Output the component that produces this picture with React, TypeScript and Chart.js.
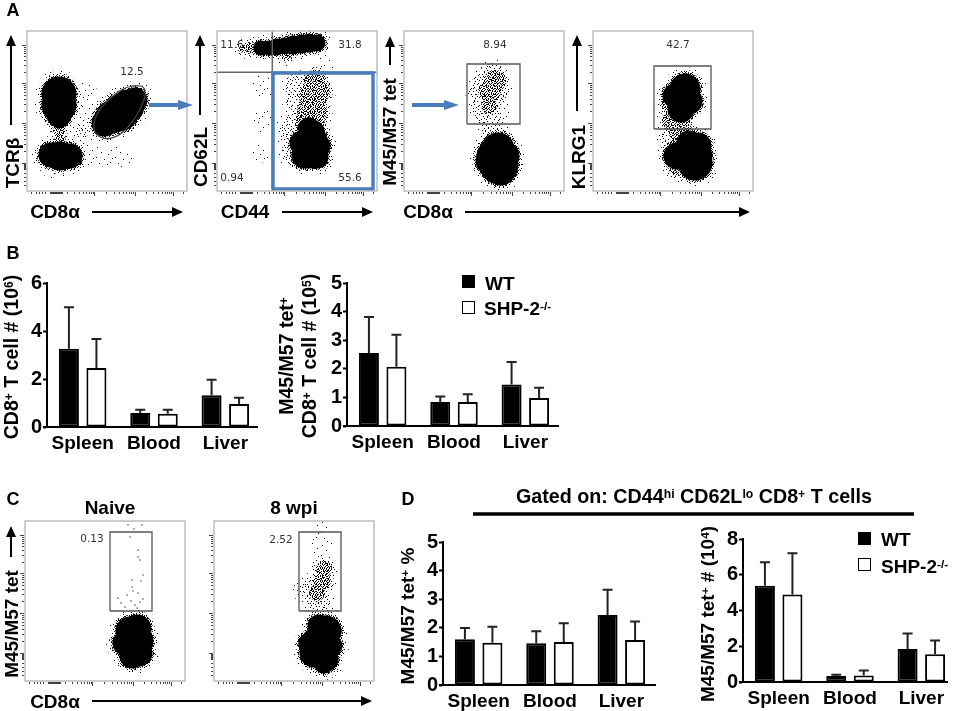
import React, { useEffect, useRef } from "react";
import { Chart, registerables } from "chart.js";

Chart.register(...registerables);

// ---------- Bar panel data ----------
const categories = ["Spleen", "Blood", "Liver"];
const b1Wt = [3.26, 0.58, 1.32];
const b1WtErr = [4.99, 0.72, 1.97];
const b1Ko = [2.46, 0.55, 0.96];
const b1KoErr = [3.67, 0.72, 1.22];
const b2Wt = [2.55, 0.84, 1.45];
const b2WtErr = [3.81, 1.03, 2.24];
const b2Ko = [2.07, 0.84, 0.98];
const b2KoErr = [3.19, 1.11, 1.34];
const d1Wt = [1.6, 1.46, 2.45];
const d1WtErr = [1.99, 1.88, 3.33];
const d1Ko = [1.48, 1.5, 1.57];
const d1KoErr = [2.04, 2.16, 2.22];
const d2Wt = [5.39, 0.34, 1.85];
const d2WtErr = [6.7, 0.41, 2.72];
const d2Ko = [4.9, 0.37, 1.55];
const d2KoErr = [7.2, 0.64, 2.32];

// ---------- Flow panel data: channel units, [x, y, spread] ----------
type Zone = [number, number, number];
type Pt = [number, number];
const a1Solid: Zone[] = [[32, 97, 14], [32, 86, 14], [32, 76, 9], [32, 70, 4], [24, 36, 9], [33, 35, 11], [43, 35, 9], [78, 68, 10], [85, 74, 13], [93, 78, 15], [101, 85, 13], [108, 91, 9]];
const a1Mid: Zone[] = [[32, 60, 6], [33, 50, 6]];
const a1Thin: Zone[] = [[50, 85, 6], [55, 60, 7]];
const a1Haze: Zone[] = [[60, 72, 22], [68, 34, 12], [88, 34, 12], [50, 45, 12], [60, 100, 10], [100, 34, 7], [25, 18, 8]];
const a2Solid: Zone[] = [[100, 148, 5], [92, 148, 6], [84, 147, 6], [76, 146, 6], [68, 145, 5], [60, 144, 5], [52, 143, 4], [44, 143, 4], [92, 62, 8], [94, 50, 13], [92, 38, 12], [97, 60, 7], [85, 48, 9], [101, 45, 9], [87, 35, 9], [100, 34, 8]];
const a2Mid: Zone[] = [[34, 143, 6], [26, 142, 4], [98, 110, 11], [96, 95, 14], [95, 80, 15], [93, 68, 15], [70, 137, 6], [100, 100, 13]];
const a2Thin: Zone[] = [[85, 90, 16], [80, 60, 18], [85, 40, 20], [80, 105, 12]];
const a2Haze: Zone[] = [[45, 105, 13], [43, 38, 10], [48, 70, 12], [110, 130, 9]];
const a3Solid: Zone[] = [[92, 34, 16], [95, 26, 16], [97, 20, 11], [94, 42, 13], [85, 30, 10], [102, 35, 10]];
const a3Mid: Zone[] = [[91, 110, 11], [88, 98, 9], [84, 100, 10], [85, 85, 8]];
const a3Thin: Zone[] = [[85, 100, 20], [88, 115, 13], [82, 85, 15], [85, 75, 12], [88, 62, 11]];
const a3Haze: Zone[] = [[90, 70, 18]];
const a4Solid: Zone[] = [[92, 102, 12], [90, 92, 13], [88, 82, 10], [82, 95, 9], [96, 90, 10], [100, 38, 14], [102, 28, 14], [96, 48, 9], [84, 35, 10], [105, 45, 10], [108, 35, 8]];
const a4Mid: Zone[] = [[78, 88, 10], [85, 72, 13], [97, 100, 11], [82, 40, 11], [85, 25, 10], [88, 58, 12], [80, 70, 11]];
const a4Thin: Zone[] = [[80, 50, 13], [78, 90, 11]];
const a4Haze: Zone[] = [[86, 20, 14]];
const c1Solid: Zone[] = [[112, 52, 11], [112, 40, 13], [114, 28, 10], [107, 45, 9], [105, 50, 11], [100, 38, 9], [107, 25, 9]];
const c1Mid: Zone[] = [[96, 40, 8], [100, 30, 8], [100, 52, 7]];
const c2Solid: Zone[] = [[112, 50, 12], [107, 35, 15], [100, 28, 11], [112, 22, 9], [100, 40, 9], [115, 50, 9], [105, 55, 8], [95, 38, 7], [110, 18, 7], [118, 35, 7]];
const c2Mid: Zone[] = [[92, 35, 5], [110, 112, 8], [108, 100, 9], [103, 88, 8]];
const c2Thin: Zone[] = [[100, 92, 13], [105, 80, 12], [97, 85, 9], [92, 90, 9]];
const c2Haze: Zone[] = [[108, 135, 11], [108, 152, 7]];
const c1Strays: Pt[] = [[105, 144], [113, 131], [115, 121], [118, 106], [107, 101], [107, 94], [113, 88], [93, 83], [102, 86], [115, 79], [110, 76], [112, 73], [100, 74], [117, 156], [103, 156], [109, 152], [113, 124], [116, 100], [108, 90], [96, 78], [118, 82], [106, 80]];
const noStrays: Pt[] = [];
const noZones: Zone[] = [];

// Gates in channel units
const a1Gate: Pt[] = [[114.7, 105], [104.7, 105], [93, 100.3], [79.7, 89.3], [69.7, 76], [67, 62.7], [73, 54.3], [83, 52.7], [96.3, 59.3], [109.7, 76], [117, 91], [118, 101], [114.7, 105]];
const a2VLine: Pt[] = [[55.3, 0], [55.3, 160]];
const a2HLine: Pt[] = [[0, 118.7], [160, 118.7]];
const a2Box: Pt[] = [[56, 2], [156, 2], [156, 118], [56, 118], [56, 2]];
const a3Box: Pt[] = [[63, 67], [116, 67], [116, 127], [63, 127], [63, 67]];
const a4Box: Pt[] = [[61, 62], [118, 62], [118, 125], [61, 125], [61, 62]];
const cBox: Pt[] = [[85, 70], [127, 70], [127, 149], [85, 149], [85, 70]];

// Log-style ticks shared by flow panels
const yMajorTicks = [146, 108, 68, 28];
const yMinorTicks = [144.3, 142.3, 140.1, 137.6, 134.6, 130.9, 126.1, 119.4, 106.2, 104.1, 101.8, 99.1, 95.9, 91.9, 86.9, 80, 66.2, 64.1, 61.8, 59.1, 55.9, 51.9, 46.9, 40, 27, 26, 25, 24, 23, 22, 18, 14, 10, 6];
const xMajorTicks = [67, 108, 146];
const xMinorTicks = [4, 9, 12, 15, 18, 23, 24, 25, 26, 27, 28, 29, 30, 31, 32, 33, 34, 35, 40, 47, 52, 56, 59, 62, 64, 66, 79, 87, 92, 96, 99, 102, 104, 106, 119, 126, 131, 135, 138, 140, 142, 144, 156];

// Stipple textures
const sparseTile: Pt[] = [[2, 3], [11, 1], [16, 6], [6, 8], [13, 10], [1, 13], [9, 15], [17, 14], [4, 19], [12, 20], [7, 22], [15, 18]];
const thinTile: Pt[] = [[1, 1], [5, 0], [9, 2], [12, 5], [3, 4], [7, 5], [0, 7], [10, 8], [5, 8], [2, 10], [8, 11], [12, 11], [4, 12], [6, 14], [1, 14], [10, 14], [11, 16], [3, 16], [8, 16], [0, 3]];
const midTile = ["#.#..#.#..#", ".#..#...#..", "#..#.#.#..#", "..#...#..#.", ".#..#..#.#.", "#.#.#.#...#", "..#...#.#..", "#...#..#..#", ".#.#.#...#.", "#...#.#.#..", "..#.#...#.#", ".#...#.#...", "#..#...#.#."];

const FONT = '"Liberation Sans", Arial, sans-serif';

function makePattern(w: number, h: number, pts: Pt[]) {
  const c = document.createElement("canvas");
  c.width = w;
  c.height = h;
  const g = c.getContext("2d")!;
  g.fillStyle = "#000";
  pts.forEach(([x, y]) => g.fillRect(x, y, 1, 1));
  return g.createPattern(c, "repeat")!;
}
function bitmapPts(rows: string[], mark: string): Pt[] {
  const out: Pt[] = [];
  rows.forEach((r, y) => r.split("").forEach((ch, x) => { if (ch === mark) out.push([x, y]); }));
  return out;
}
const bub = (zones: Zone[], extra: number) => zones.map(([x, y, r]) => ({ x, y, r: r + extra }));
const pts = (p: Pt[]) => p.map(([x, y]) => ({ x, y }));

const flowFrame = {
  id: "flowFrame",
  afterDatasetsDraw(chart: any) {
    const { ctx, chartArea: a, scales } = chart;
    ctx.save();
    ctx.strokeStyle = "#bdbdbd";
    ctx.lineWidth = 1.5;
    ctx.strokeRect(a.left, a.top, a.width, a.height);
    ctx.strokeStyle = "#444";
    ctx.lineWidth = 1;
    const tick = (vals: number[], len: number, axis: string) => vals.forEach((v) => {
      ctx.beginPath();
      if (axis === "y") {
        const p = Math.round(scales.y.getPixelForValue(v)) + 0.5;
        ctx.moveTo(a.left - 1, p); ctx.lineTo(a.left - 1 - len, p);
      } else {
        const p = Math.round(scales.x.getPixelForValue(v)) + 0.5;
        ctx.moveTo(p, a.bottom + 1); ctx.lineTo(p, a.bottom + 1 + len);
      }
      ctx.stroke();
    });
    tick(yMajorTicks, 4, "y"); tick(yMinorTicks, 2, "y");
    tick(xMajorTicks, 4, "x"); tick(xMinorTicks, 2, "x");
    ctx.restore();
  },
};

type Gate = { p: Pt[]; color: string; width: number; smooth?: boolean };

function FlowPlot(props: { left: number; top: number; solid: Zone[]; mid: Zone[]; thin: Zone[]; haze: Zone[]; strays: Pt[]; gates: Gate[] }) {
  const ref = useRef<HTMLCanvasElement>(null);
  useEffect(() => {
    const { solid, mid, thin, haze, strays, gates } = props;
    const sparseP = makePattern(19, 23, sparseTile);
    const thinP = makePattern(13, 17, thinTile);
    const midP = makePattern(11, 13, bitmapPts(midTile, "#"));
    const denseP = makePattern(11, 13, bitmapPts(midTile, "."));
    const datasets: any[] = [
      { type: "bubble", order: 15, backgroundColor: sparseP, borderWidth: 0, data: [...bub(haze, 0), ...bub(thin, 4), ...bub(mid, 6), ...bub(solid, 10)] },
      { type: "bubble", order: 14, backgroundColor: thinP, borderWidth: 0, data: [...bub(thin, 0), ...bub(mid, 3), ...bub(solid, 7)] },
      { type: "bubble", order: 13, backgroundColor: midP, borderWidth: 0, data: [...bub(mid, 0), ...bub(solid, 5)] },
      { type: "bubble", order: 12, backgroundColor: denseP, borderWidth: 0, data: bub(solid, 3.5) },
      { type: "bubble", order: 11, backgroundColor: "#000", borderWidth: 0, data: bub(solid, 1.5) },
      { type: "scatter", order: 10, backgroundColor: "#222", pointRadius: 0.7, borderWidth: 0, data: pts(strays) },
      ...gates.map((g, i) => ({ type: "line", order: i, data: pts(g.p), borderColor: g.color, borderWidth: g.width, pointRadius: 0, tension: g.smooth ? 0.4 : 0, fill: false })),
    ];
    const chart = new Chart(ref.current!, {
      type: "bubble",
      data: { datasets },
      options: {
        animation: false,
        responsive: false,
        events: [],
        layout: { autoPadding: false, padding: { left: 8, right: 2, top: 2, bottom: 8 } },
        plugins: { legend: { display: false }, tooltip: { enabled: false } },
        scales: {
          x: { type: "linear", min: 0, max: 160, display: false },
          y: { type: "linear", min: 0, max: 160, display: false },
        },
      },
      plugins: [flowFrame],
    } as any);
    return () => chart.destroy();
  }, []);
  return <canvas ref={ref} width={170} height={170} style={{ position: "absolute", left: props.left - 8, top: props.top - 2, width: 170, height: 170, filter: "blur(0.4px)" }} />;
}

const barExtras = {
  id: "barExtras",
  afterDatasetsDraw(chart: any) {
    const { ctx, scales } = chart;
    const o = chart.options.plugins.barExtras;
    ctx.save();
    ctx.strokeStyle = "#222";
    ctx.lineWidth = 2;
    chart.data.datasets.forEach((ds: any, di: number) => {
      const meta = chart.getDatasetMeta(di);
      meta.data.forEach((bar: any, i: number) => {
        const t = scales.y.getPixelForValue(ds.errTop[i]);
        ctx.beginPath();
        ctx.moveTo(bar.x, bar.y);
        ctx.lineTo(bar.x, t);
        ctx.moveTo(bar.x - 5, t);
        ctx.lineTo(bar.x + 5, t);
        ctx.stroke();
      });
    });
    ctx.strokeStyle = "#000";
    const b = scales.y.getPixelForValue(0);
    ctx.beginPath();
    ctx.moveTo(chart.chartArea.left - 4, b);
    ctx.lineTo(chart.chartArea.left + o.axisLen, b);
    ctx.stroke();
    ctx.restore();
  },
};

function BarPlot(props: { left: number; top: number; base: number; axisLen: number; max: number; wt: number[]; wtErr: number[]; ko: number[]; koErr: number[] }) {
  const ref = useRef<HTMLCanvasElement>(null);
  const YW = 30, PT = 14, XH = 30, PW = 214;
  useEffect(() => {
    const chart = new Chart(ref.current!, {
      type: "bar",
      data: {
        labels: categories,
        datasets: [
          { label: "WT", data: props.wt, errTop: props.wtErr, backgroundColor: "#000", borderColor: "#000", borderWidth: 2, borderSkipped: false },
          { label: "SHP-2-/-", data: props.ko, errTop: props.koErr, backgroundColor: "#fff", borderColor: "#000", borderWidth: 2, borderSkipped: false },
        ],
      },
      options: {
        animation: false,
        responsive: false,
        events: [],
        categoryPercentage: 0.771,
        barPercentage: 0.727,
        layout: { autoPadding: false, padding: { top: PT, left: 0, right: 0, bottom: 0 } },
        plugins: { legend: { display: false }, tooltip: { enabled: false }, barExtras: { axisLen: props.axisLen } },
        scales: {
          x: {
            type: "category",
            afterFit: (s: any) => { s.height = XH; },
            grid: { display: false, drawTicks: false },
            border: { display: false },
            ticks: { color: "#000", font: { family: FONT, size: 19, weight: "bold" }, padding: 5, maxRotation: 0, autoSkip: false },
          },
          y: {
            type: "linear",
            min: 0,
            max: props.max,
            afterFit: (s: any) => { s.width = YW; },
            afterBuildTicks: (s: any) => {
              const step = props.max === 8 ? 2 : props.max === 6 ? 2 : 1;
              const t = [];
              for (let v = 0; v <= props.max; v += step) t.push({ value: v });
              s.ticks = t;
            },
            grid: { display: true, drawOnChartArea: false, drawTicks: true, tickLength: 4, tickWidth: 2, tickColor: "#000" },
            border: { display: true, width: 2, color: "#000" },
            ticks: { color: "#000", font: { family: FONT, size: 20, weight: "bold" }, padding: 1 },
          },
        },
      },
      plugins: [barExtras],
    } as any);
    return () => chart.destroy();
  }, []);
  const H = props.base - props.top + PT + XH;
  return <canvas ref={ref} width={PW + YW} height={H} style={{ position: "absolute", left: props.left - YW, top: props.top - PT, width: PW + YW, height: H }} />;
}

function T(p: { x: number; y: number; size?: number; rot?: boolean; bold?: boolean; font?: string; color?: string; children: React.ReactNode }) {
  return (
    <div style={{
      position: "absolute", left: p.x, top: p.y, whiteSpace: "nowrap", lineHeight: 1,
      transform: `translate(-50%,-50%)${p.rot ? " rotate(-90deg)" : ""}`,
      fontFamily: p.font || FONT, fontWeight: p.bold === false ? 400 : 700, fontSize: p.size || 19, color: p.color || "#000",
    }}>{p.children}</div>
  );
}
function L(p: { x: number; y: number; size?: number; children: React.ReactNode }) {
  return (
    <div style={{ position: "absolute", left: p.x, top: p.y, whiteSpace: "nowrap", lineHeight: 1, transform: "translateY(-50%)", fontFamily: FONT, fontWeight: 700, fontSize: p.size || 19, color: "#000" }}>{p.children}</div>
  );
}
const Sup = (p: { children: React.ReactNode }) => <sup style={{ fontSize: "62%", lineHeight: 0, verticalAlign: "baseline", position: "relative", top: "-0.45em" }}>{p.children}</sup>;
const Num = (p: { x: number; y: number; children: React.ReactNode }) => <T x={p.x} y={p.y} size={10.5} bold={false} font='"DejaVu Sans", sans-serif' color="#333">{p.children}</T>;

function Arrow(p: { x1: number; y1: number; x2: number; y2: number; color?: string; w?: number; hw?: number; hl?: number }) {
  const w = p.w || 2, hw = p.hw || 5, hl = p.hl || 11, c = p.color || "#000";
  const up = p.x1 === p.x2;
  const head = up
    ? `${p.x2},${p.y2} ${p.x2 - hw},${p.y2 + hl} ${p.x2 + hw},${p.y2 + hl}`
    : `${p.x2},${p.y2} ${p.x2 - hl},${p.y2 - hw} ${p.x2 - hl},${p.y2 + hw}`;
  return (
    <g>
      <line x1={p.x1} y1={p.y1} x2={up ? p.x2 : p.x2 - hl + 1} y2={up ? p.y2 + hl - 1 : p.y2} stroke={c} strokeWidth={w} />
      <polygon points={head} fill={c} />
    </g>
  );
}
const Swatch = (p: { x: number; y: number; black?: boolean }) => (
  <div style={{ position: "absolute", left: p.x, top: p.y, width: 13, height: 13, boxSizing: "border-box", background: p.black ? "#000" : "#fff", border: "1.5px solid #000" }} />
);

export default function App() {
  const grey = "#555";
  return (
    <div style={{ position: "absolute", left: 0, top: 0, width: 953, height: 711, overflow: "hidden", background: "#fff" }}>
      <FlowPlot left={27} top={31} solid={a1Solid} mid={a1Mid} thin={a1Thin} haze={a1Haze} strays={noStrays} gates={[{ p: a1Gate, color: "#444", width: 1.2, smooth: true }]} />
      <FlowPlot left={217} top={31} solid={a2Solid} mid={a2Mid} thin={a2Thin} haze={a2Haze} strays={noStrays} gates={[{ p: a2Box, color: "#4a7ebb", width: 3.5 }, { p: a2VLine, color: "#666", width: 1.5 }, { p: a2HLine, color: "#666", width: 1.5 }]} />
      <FlowPlot left={404} top={31} solid={a3Solid} mid={a3Mid} thin={a3Thin} haze={a3Haze} strays={noStrays} gates={[{ p: a3Box, color: grey, width: 1.3 }]} />
      <FlowPlot left={593} top={31} solid={a4Solid} mid={a4Mid} thin={a4Thin} haze={a4Haze} strays={noStrays} gates={[{ p: a4Box, color: grey, width: 1.3 }]} />
      <FlowPlot left={25} top={521} solid={c1Solid} mid={c1Mid} thin={noZones} haze={noZones} strays={c1Strays} gates={[{ p: cBox, color: grey, width: 1.3 }]} />
      <FlowPlot left={214} top={521} solid={c2Solid} mid={c2Mid} thin={c2Thin} haze={c2Haze} strays={noStrays} gates={[{ p: cBox, color: grey, width: 1.3 }]} />

      <BarPlot left={47} top={283} base={427} axisLen={211} max={6} wt={b1Wt} wtErr={b1WtErr} ko={b1Ko} koErr={b1KoErr} />
      <BarPlot left={347} top={283} base={426} axisLen={212} max={5} wt={b2Wt} wtErr={b2WtErr} ko={b2Ko} koErr={b2KoErr} />
      <BarPlot left={443} top={542} base={685} axisLen={213} max={5} wt={d1Wt} wtErr={d1WtErr} ko={d1Ko} koErr={d1KoErr} />
      <BarPlot left={743} top={539} base={682} axisLen={205} max={8} wt={d2Wt} wtErr={d2WtErr} ko={d2Ko} koErr={d2KoErr} />

      <svg width={953} height={711} style={{ position: "absolute", left: 0, top: 0, pointerEvents: "none" }}>
        <Arrow x1={11} y1={125} x2={11} y2={35} />
        <Arrow x1={92} y1={212} x2={183} y2={212} />
        <Arrow x1={200} y1={115} x2={200} y2={35} />
        <Arrow x1={282} y1={212} x2={373} y2={212} />
        <Arrow x1={390} y1={65} x2={390} y2={36} />
        <Arrow x1={577} y1={111} x2={577} y2={35} />
        <Arrow x1={465} y1={212} x2={750} y2={212} />
        <Arrow x1={149} y1={105} x2={193} y2={105} color="#4a7ebb" w={4} hl={15} />
        <Arrow x1={412} y1={105} x2={459} y2={105} color="#4a7ebb" w={4} hl={15} />
        <Arrow x1={11} y1={557} x2={11} y2={526} />
        <Arrow x1={92} y1={701} x2={372} y2={701} />
        <line x1={473} y1={514} x2={914} y2={514} stroke="#000" strokeWidth={3.5} />
      </svg>

      <T x={13} y={10} size={18}>A</T>
      <T x={13} y={253} size={18}>B</T>
      <T x={13} y={499} size={18}>C</T>
      <T x={408} y={499} size={18}>D</T>

      <T x={12} y={163} rot>TCRβ</T>
      <T x={55} y={211}>CD8α</T>
      <T x={200} y={157} rot>CD62L</T>
      <T x={245} y={211}>CD44</T>
      <T x={389} y={132} rot>M45/M57 tet</T>
      <T x={578} y={157} rot>KLRG1</T>
      <T x={428} y={211}>CD8α</T>
      <Num x={132} y={71}>12.5</Num>
      <Num x={232} y={44}>11.6</Num>
      <Num x={350} y={44}>31.8</Num>
      <Num x={232} y={177}>0.94</Num>
      <Num x={350} y={177}>55.6</Num>
      <Num x={495} y={44}>8.94</Num>
      <Num x={678} y={44}>42.7</Num>

      <T x={12} y={357} rot size={19.5}>CD8<Sup>+</Sup> T cell # (10<Sup>6</Sup>)</T>
      <T x={287} y={356} rot size={19.5}>M45/M57 tet<Sup>+</Sup></T>
      <T x={310} y={356} rot size={19.5}>CD8<Sup>+</Sup> T cell # (10<Sup>5</Sup>)</T>
      <Swatch x={462} y={275} black />
      <Swatch x={462} y={301} />
      <L x={485} y={283}>WT</L>
      <L x={484} y={308}>SHP-2<Sup>-/-</Sup></L>

      <T x={110} y={507}>Naive</T>
      <T x={294} y={507}>8 wpi</T>
      <T x={11} y={624} rot>M45/M57 tet</T>
      <T x={55} y={701}>CD8α</T>
      <Num x={92} y={538}>0.13</Num>
      <Num x={281} y={539}>2.52</Num>

      <T x={694} y={497} size={19.7}>Gated on: CD44<Sup>hi</Sup> CD62L<Sup>lo</Sup> CD8<Sup>+</Sup> T cells</T>
      <T x={407} y={616} rot size={19}>M45/M57 tet<Sup>+</Sup> %</T>
      <T x={707} y={614} rot size={19}>M45/M57 tet<Sup>+</Sup> # (10<Sup>4</Sup>)</T>
      <Swatch x={858} y={532} black />
      <Swatch x={858} y={558} />
      <L x={881} y={539}>WT</L>
      <L x={881} y={566}>SHP-2<Sup>-/-</Sup></L>
    </div>
  );
}
